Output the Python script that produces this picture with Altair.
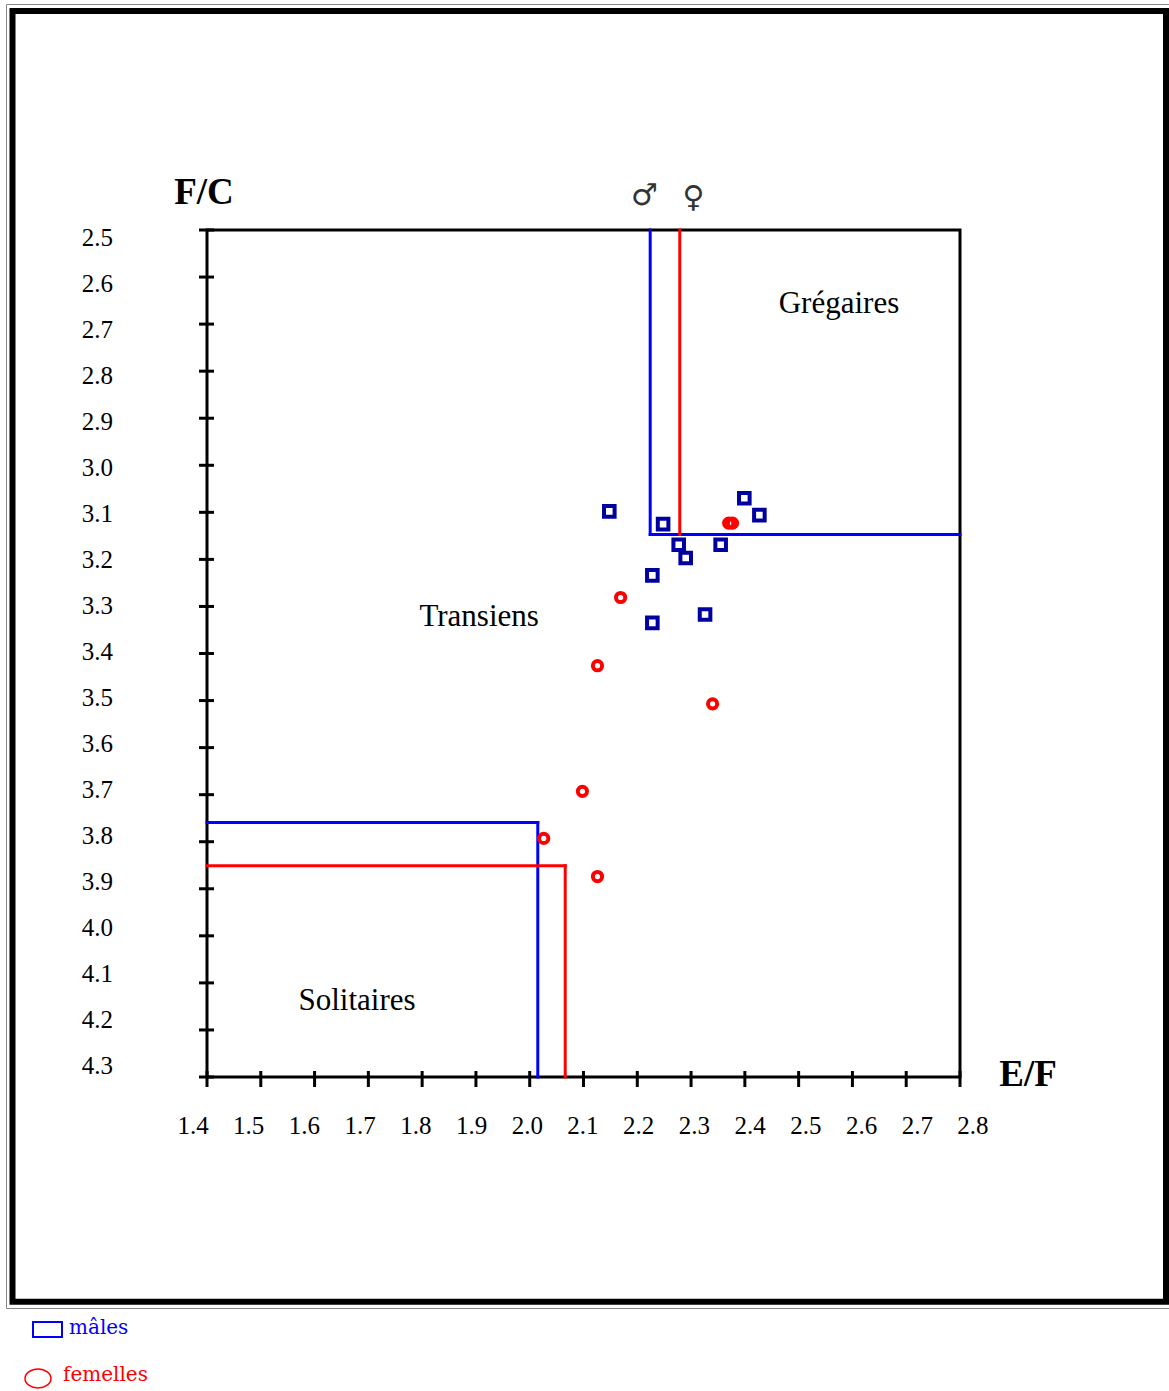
import altair as alt
import pandas as pd

# Axis ticks and their labels
x_ticks = [1.4, 1.5, 1.6, 1.7, 1.8, 1.9, 2.0, 2.1, 2.2, 2.3, 2.4, 2.5, 2.6, 2.7, 2.8]
x_tick_labels = ["1.4", "1.5", "1.6", "1.7", "1.8", "1.9", "2.0", "2.1",
                 "2.2", "2.3", "2.4", "2.5", "2.6", "2.7", "2.8"]
y_ticks = [2.5, 2.6, 2.7, 2.8, 2.9, 3.0, 3.1, 3.2, 3.3, 3.4,
           3.5, 3.6, 3.7, 3.8, 3.9, 4.0, 4.1, 4.2, 4.3]
y_tick_labels = ["2.5", "2.6", "2.7", "2.8", "2.9", "3.0", "3.1", "3.2", "3.3", "3.4",
                 "3.5", "3.6", "3.7", "3.8", "3.9", "4.0", "4.1", "4.2", "4.3"]

# Males (E/F, F/C)
males_ef = [2.148, 2.248, 2.399, 2.427, 2.277, 2.290, 2.355, 2.228, 2.228, 2.326]
males_fc = [3.098, 3.125, 3.070, 3.106, 3.169, 3.197, 3.169, 3.234, 3.335, 3.317]

# Females (E/F, F/C)
females_ef = [2.370, 2.377, 2.169, 2.126, 2.340, 2.098, 2.026, 2.126]
females_fc = [3.123, 3.123, 3.281, 3.426, 3.507, 3.693, 3.793, 3.874]

# Phase thresholds: gregarious limit (upper) and solitary limit (lower)
male_greg_ef, male_greg_fc = 2.224, 3.147
female_greg_ef, female_greg_fc = 2.279, 3.147
male_sol_ef, male_sol_fc = 2.015, 3.759
female_sol_ef, female_sol_fc = 2.066, 3.851

# Phase names and their positions in the E/F - F/C plane
phase_names = ["Grégaires", "Transiens", "Solitaires"]
phase_ef = [2.575, 1.906, 1.679]
phase_fc = [2.657, 3.322, 4.138]

X_MIN, X_MAX = 1.4, 2.8
Y_MIN, Y_MAX = 2.5, 4.3
W, H = 753, 847

BLUE = "#0000FF"
RED = "#FF0000"
NAVY = "#0000A0"
SERIF = "Liberation Serif"

xs = alt.Scale(domain=[X_MIN, X_MAX], zero=False, nice=False)
ys = alt.Scale(domain=[Y_MIN, Y_MAX], zero=False, nice=False, reverse=True)
# label scales: tick labels are laid out on a slightly different spacing than the ticks
xls = alt.Scale(domain=[1.4251, 2.7767], zero=False, nice=False)
yls = alt.Scale(domain=[2.4826, 4.3239], zero=False, nice=False, reverse=True)

def X(field, scale=xs):
    return alt.X(field, type="quantitative", scale=scale, axis=None)

def Y(field, scale=ys):
    return alt.Y(field, type="quantitative", scale=scale, axis=None)

one = pd.DataFrame({"k": [0]})

males = pd.DataFrame({"ef": males_ef, "fc": males_fc})
females = pd.DataFrame({"ef": females_ef, "fc": females_fc})

blue_segments = pd.DataFrame({
    "x": [male_greg_ef, male_greg_ef, X_MIN, male_sol_ef],
    "y": [Y_MIN, male_greg_fc, male_sol_fc, male_sol_fc],
    "x2": [male_greg_ef, X_MAX, male_sol_ef, male_sol_ef],
    "y2": [male_greg_fc, male_greg_fc, male_sol_fc, Y_MAX],
})
red_segments = pd.DataFrame({
    "x": [female_greg_ef, X_MIN, female_sol_ef],
    "y": [Y_MIN, female_sol_fc, female_sol_fc],
    "x2": [female_greg_ef, female_sol_ef, female_sol_ef],
    "y2": [female_greg_fc, female_sol_fc, Y_MAX],
})

xt = pd.DataFrame({"v": x_ticks, "lab": x_tick_labels})
yt = pd.DataFrame({"v": y_ticks, "lab": y_tick_labels})
phases = pd.DataFrame({"name": phase_names, "ef": phase_ef, "fc": phase_fc})

# Outer double frame around the figure
frame_thin = alt.Chart(one).mark_rect(fillOpacity=0, stroke="#888888", strokeWidth=1).encode(
    x=alt.value(-200.5), x2=alt.value(964), y=alt.value(-225.5), y2=alt.value(1078.5))
frame_thick = alt.Chart(one).mark_rect(fillOpacity=0, stroke="black", strokeWidth=6).encode(
    x=alt.value(-194.5), x2=alt.value(959), y=alt.value(-219), y2=alt.value(1071.7))

# Axis ticks crossing the frame lines
x_tick_marks = alt.Chart(xt).mark_rule(color="black", strokeWidth=3).encode(
    x=X("v"), y=alt.value(H - 6), y2=alt.value(H + 10))
y_tick_marks = alt.Chart(yt).mark_rule(color="black", strokeWidth=3).encode(
    y=Y("v"), x=alt.value(-8), x2=alt.value(7))

x_labels = alt.Chart(xt).mark_text(font=SERIF, fontSize=25, color="black",
                                   align="center", baseline="middle").encode(
    x=X("v", xls), y=alt.value(895.5), text="lab:N")
y_labels = alt.Chart(yt).mark_text(font=SERIF, fontSize=25, color="black",
                                   align="right", baseline="middle").encode(
    y=Y("v", yls), x=alt.value(-94), text="lab:N")

# Phase boundaries
blue_lines = alt.Chart(blue_segments).mark_rule(color=BLUE, strokeWidth=3, strokeCap="square").encode(
    x=X("x"), x2="x2", y=Y("y"), y2="y2")
red_lines = alt.Chart(red_segments).mark_rule(color=RED, strokeWidth=3, strokeCap="square").encode(
    x=X("x"), x2="x2", y=Y("y"), y2="y2")

phase_text = alt.Chart(phases).mark_text(font=SERIF, fontSize=31, color="black",
                                         align="center", baseline="middle").encode(
    x=X("ef"), y=Y("fc"), text="name:N")

male_pts = alt.Chart(males).mark_point(shape="square", filled=False, color=NAVY,
                                       strokeWidth=4, size=112, opacity=1).encode(
    x=X("ef"), y=Y("fc"))
female_pts = alt.Chart(females).mark_point(shape="circle", filled=False, color=RED,
                                           strokeWidth=4, size=85, opacity=1).encode(
    x=X("ef"), y=Y("fc"))

# Axis titles and sex symbols
title_fc = alt.Chart(one).mark_text(text="F/C", font=SERIF, fontSize=37, fontWeight="bold",
                                    color="black", align="center", baseline="middle").encode(
    x=alt.value(-3), y=alt.value(-37))
title_ef = alt.Chart(one).mark_text(text="E/F", font=SERIF, fontSize=37, fontWeight="bold",
                                    color="black", align="center", baseline="middle").encode(
    x=alt.value(821), y=alt.value(845))
sym_m = alt.Chart(one).mark_text(text="♂", font="DejaVu Sans", fontSize=30, color="#333333",
                                 align="center", baseline="middle").encode(
    x=alt.value(437.5), y=alt.value(-34))
sym_f = alt.Chart(one).mark_text(text="♀", font="DejaVu Sans", fontSize=30, color="#333333",
                                 align="center", baseline="middle").encode(
    x=alt.value(486.5), y=alt.value(-32))

# Legend below the frame
leg_box = alt.Chart(one).mark_rect(fillOpacity=0, stroke=BLUE, strokeWidth=2).encode(
    x=alt.value(33 - 207), x2=alt.value(62 - 207), y=alt.value(1322 - 230), y2=alt.value(1337 - 230))
leg_m = alt.Chart(one).mark_text(text="mâles", font="DejaVu Serif", fontSize=20, color=BLUE,
                                 align="left", baseline="alphabetic").encode(
    x=alt.value(69 - 207), y=alt.value(1334 - 230))
leg_circle = alt.Chart(one).mark_point(
    shape="M-1,0A1,0.73 0 1,1 1,0A1,0.73 0 1,1 -1,0Z", filled=False, color=RED,
    strokeWidth=1.5, size=676, opacity=1).encode(
    x=alt.value(38 - 207), y=alt.value(1378.5 - 230))
leg_f = alt.Chart(one).mark_text(text="femelles", font="DejaVu Serif", fontSize=20, color=RED,
                                 align="left", baseline="alphabetic").encode(
    x=alt.value(63 - 207), y=alt.value(1381 - 230))

chart = alt.layer(
    frame_thin, frame_thick,
    x_tick_marks, y_tick_marks, x_labels, y_labels,
    blue_lines, red_lines, phase_text,
    male_pts, female_pts,
    title_fc, title_ef, sym_m, sym_f,
    leg_box, leg_m, leg_circle, leg_f,
).resolve_scale(
    x="independent", y="independent"
).properties(
    width=W, height=H,
    autosize=alt.AutoSizeParams(type="none"),
    padding={"left": 207, "top": 230, "right": 1169 - 207 - W, "bottom": 1391 - 230 - H},
    background="white",
).configure_view(
    stroke="black", strokeWidth=3
)

chart.save("out.html", embed_options={"renderer": "svg", "actions": False})
